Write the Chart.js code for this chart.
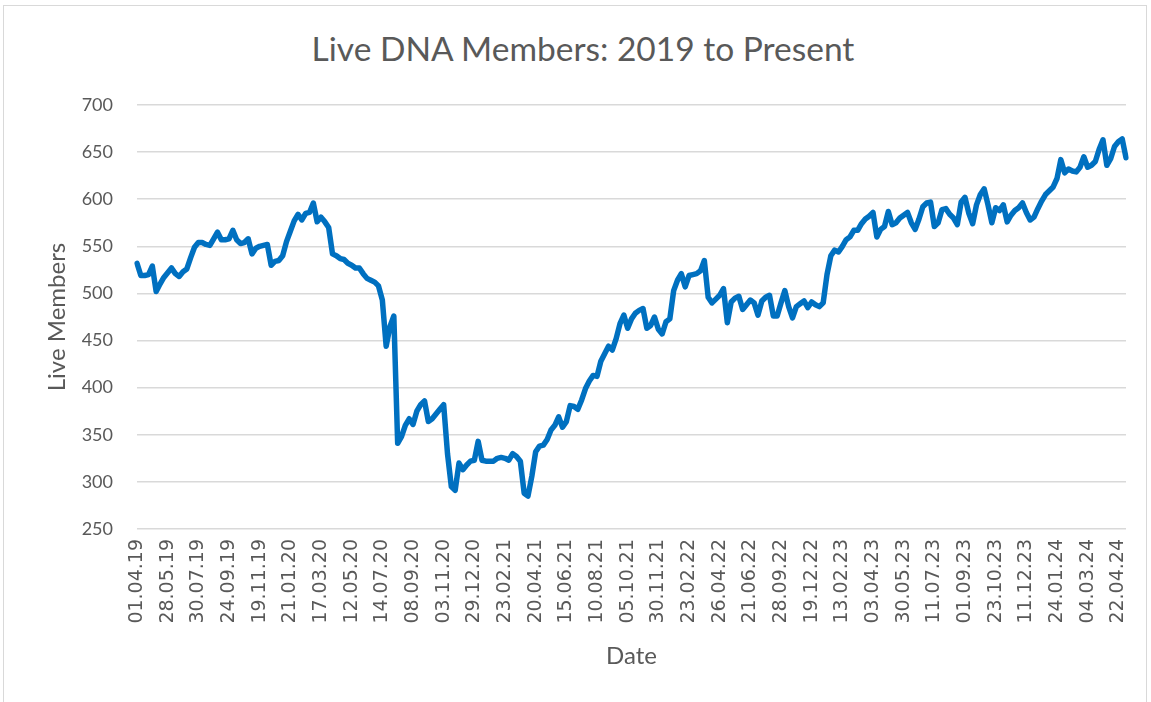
<!DOCTYPE html>
<html>
<head>
<meta charset="utf-8">
<script src="https://cdn.jsdelivr.net/npm/chart.js@4.4.1/dist/chart.umd.min.js"></script>
<style>
  html, body { margin: 0; padding: 0; background: #fff; }
  #frame { position: absolute; left: 3px; top: 5px; width: 1144px; height: 720px; border: 1.5px solid #d9d9d9; box-sizing: border-box; }
  #title { position: absolute; left: 283px; top: 28px; width: 600px; text-align: center;
           font: 33.5px Lato, sans-serif; line-height: 40px; color: #595959; white-space: nowrap; }
  #wrap { position: absolute; left: 0; top: 0; width: 1151px; height: 702px; }
</style>
</head>
<body>
<div id="frame"></div>
<div id="title">Live DNA Members: 2019 to Present</div>
<div id="wrap"><canvas id="memberChart"></canvas></div>
<script>
// x-axis labels, one every 8 data points
const tickLabels = [
  '01.04.19', '28.05.19', '30.07.19', '24.09.19', '19.11.19', '21.01.20', '17.03.20',
  '12.05.20', '14.07.20', '08.09.20', '03.11.20', '29.12.20', '23.02.21', '20.04.21',
  '15.06.21', '10.08.21', '05.10.21', '30.11.21', '23.02.22', '26.04.22', '21.06.22',
  '28.09.22', '19.12.22', '13.02.23', '03.04.23', '30.05.23', '11.07.23', '01.09.23',
  '23.10.23', '11.12.23', '24.01.24', '04.03.24', '22.04.24'
];
const labelEvery = 8;

// live members
const members = [
  532, 519, 519, 520, 529, 502, 510, 517, 522, 527,
  521, 518, 523, 526, 538, 549, 554, 554, 552, 551,
  558, 565, 557, 557, 558, 567, 557, 553, 554, 558,
  542, 548, 550, 551, 552, 530, 534, 535, 540, 555,
  566, 577, 584, 578, 585, 586, 596, 576, 581, 576,
  570, 542, 540, 537, 536, 532, 530, 527, 527, 521,
  516, 514, 512, 508, 493, 444, 465, 476, 341, 348,
  360, 367, 361, 375, 382, 386, 364, 367, 372, 377,
  382, 330, 295, 291, 320, 313, 318, 322, 323, 343,
  323, 322, 322, 322, 325, 326, 325, 323, 330, 327,
  322, 288, 285, 306, 332, 338, 339, 345, 355, 360,
  369, 358, 364, 381, 380, 377, 387, 399, 407, 413,
  412, 428, 436, 444, 440, 452, 468, 477, 463, 473,
  479, 482, 484, 463, 466, 475, 462, 457, 470, 473,
  503, 514, 521, 507, 519, 520, 521, 524, 535, 496,
  490, 494, 498, 505, 469, 491, 495, 497, 483, 488,
  493, 490, 477, 492, 496, 498, 476, 476, 490, 503,
  486, 474, 486, 489, 492, 485, 491, 488, 486, 490,
  520, 540, 546, 544, 550, 557, 560, 567, 567, 574,
  579, 582, 586, 560, 568, 571, 587, 573, 575, 580,
  583, 586, 575, 568, 579, 592, 596, 597, 571, 575,
  589, 590, 584, 580, 573, 597, 602, 585, 574, 594,
  605, 611, 594, 575, 591, 588, 594, 576, 583, 588,
  591, 596, 586, 578, 581, 590, 598, 605, 609, 613,
  622, 642, 628, 632, 630, 629, 634, 645, 634, 636,
  640, 653, 663, 636, 643, 656, 661, 664, 644
];

const yMin = 250;
const yMax = 700;
const yStep = 50;

// category per point, date text only where the axis shows one
const categories = members.map((v, i) => (i % labelEvery === 0 ? tickLabels[i / labelEvery] || '' : ''));

const textColor = '#595959';
const gridColor = '#d9d9d9';

const ctx = document.getElementById('memberChart').getContext('2d');
const chart = new Chart(ctx, {
  type: 'line',
  data: {
    labels: categories,
    datasets: [
      {
        label: 'Live Members',
        data: members,
        borderColor: '#0070c0',
        borderWidth: 5.5,
        pointRadius: 0,
        tension: 0,
        borderJoinStyle: 'round',
        borderCapStyle: 'round',
        fill: false,
      },
    ],
  },
  options: {
    responsive: true,
    maintainAspectRatio: false,
    animation: false,
    layout: { padding: { top: 105, right: 25, bottom: 0, left: 0 } },
    plugins: {
      legend: { display: false },
      tooltip: { enabled: false },
      title: { display: false },
    },
    scales: {
      x: {
        type: 'category',
        offset: false,
        grid: { display: false, drawTicks: false },
        border: { display: false },
        ticks: {
          autoSkip: false,
          minRotation: 90,
          maxRotation: 90,
          padding: 10,
          color: textColor,
          font: { family: 'DejaVu Sans', size: 19 },
        },
        title: {
          display: true,
          text: 'Date',
          color: textColor,
          font: { family: 'Lato', size: 24 },
          padding: { top: 0, bottom: 31 },
        },
        afterFit: (scale) => {
          scale.height = 173;
          // keep the plot running out to the right edge like the original
          scale.paddingLeft = 0;
          scale.paddingRight = 0;
        },
      },
      y: {
        min: yMin,
        max: yMax,
        grid: { color: gridColor, lineWidth: 1.5, drawTicks: false },
        border: { display: false },
        ticks: {
          stepSize: yStep,
          padding: 24,
          color: textColor,
          font: { family: 'Lato', size: 18 },
        },
        title: {
          display: true,
          text: 'Live Members',
          color: textColor,
          font: { family: 'Lato', size: 24 },
          padding: { top: 43, bottom: 0 },
        },
        afterFit: (scale) => { scale.width = 137; },
      },
    },
  },
});
</script>
</body>
</html>
